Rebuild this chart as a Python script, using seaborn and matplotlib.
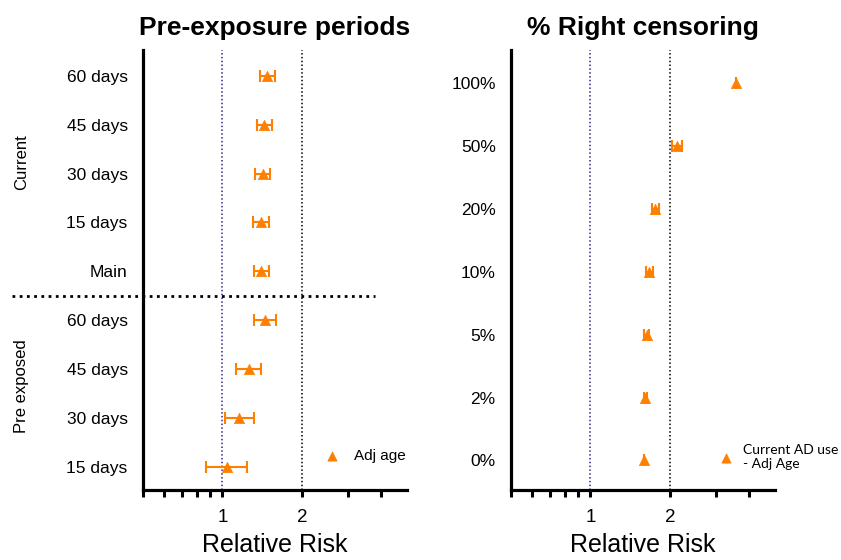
import matplotlib
matplotlib.use("Agg")
import matplotlib.pyplot as plt
from matplotlib.ticker import FixedLocator, FixedFormatter, NullFormatter
import seaborn as sns
import pandas as pd

# Left panel: pre-exposure periods (relative risk, 95% CI)
pre_labels = ["60 days", "45 days", "30 days", "15 days", "Main",
              "60 days", "45 days", "30 days", "15 days"]
pre_rr = [1.48, 1.44, 1.42, 1.40, 1.40, 1.45, 1.26, 1.16, 1.04]
pre_lo = [1.39, 1.35, 1.33, 1.31, 1.32, 1.32, 1.13, 1.02, 0.87]
pre_hi = [1.58, 1.54, 1.52, 1.50, 1.50, 1.59, 1.40, 1.32, 1.24]

# Right panel: % right censoring
cens_labels = ["100%", "50%", "20%", "10%", "5%", "2%", "0%"]
cens_rr = [3.57, 2.13, 1.76, 1.67, 1.63, 1.61, 1.59]
cens_lo = [3.57, 2.04, 1.71, 1.62, 1.60, 1.59, 1.59]
cens_hi = [3.57, 2.22, 1.82, 1.73, 1.66, 1.63, 1.59]

orange = "#FF8000"
sns.set_style("white")
plt.rcParams["font.family"] = ["Liberation Sans", "DejaVu Sans"]
for key in ["text.color", "axes.labelcolor", "xtick.color", "ytick.color"]:
    plt.rcParams[key] = "black"

fig = plt.figure(figsize=(8.41, 5.6), dpi=100)
ax1 = fig.add_axes([0.170, 0.125, 0.314, 0.786])
ax2 = fig.add_axes([0.6076, 0.125, 0.314, 0.786])


def forest(ax, labels, rr, lo, hi, label):
    df = pd.DataFrame({"pos": range(len(labels)), "rr": rr, "lo": lo, "hi": hi})
    ax.set_xscale("log")
    ax.axvline(1, color="#2b2b8a", ls=(0, (1, 1.5)), lw=1.1, zorder=1)
    ax.axvline(2, color="black", ls=(0, (1, 1.5)), lw=1.1, zorder=1)
    ax.errorbar(df["rr"], df["pos"],
                xerr=[df["rr"] - df["lo"], df["hi"] - df["rr"]],
                fmt="none", ecolor=orange, elinewidth=1.5, capsize=4,
                capthick=1.5, zorder=2)
    sns.scatterplot(data=df, x="rr", y="pos", marker="^", s=55,
                    color=orange, edgecolor=orange, linewidth=0.5,
                    label=label, ax=ax, zorder=3)
    n = len(labels)
    ax.set_ylim(n - 1 + 0.47, -0.53)
    ax.set_xlim(0.5, 5)
    ax.set_yticks(range(n))
    ax.set_yticklabels(labels, fontsize=12.5)
    ax.xaxis.set_major_locator(FixedLocator([1, 2]))
    ax.xaxis.set_minor_locator(FixedLocator([0.5, 0.6, 0.7, 0.8, 0.9, 3, 4]))
    ax.xaxis.set_major_formatter(FixedFormatter(["1", "2"]))
    ax.xaxis.set_minor_formatter(NullFormatter())
    ax.tick_params(axis="x", which="both", direction="out", length=5,
                   width=2.2, labelsize=13.5, pad=9, bottom=True)
    ax.tick_params(axis="y", length=0, pad=11)
    for side in ["top", "right"]:
        ax.spines[side].set_visible(False)
    for side in ["left", "bottom"]:
        ax.spines[side].set_linewidth(2.3)
        ax.spines[side].set_color("black")
    ax.set_xlabel("Relative Risk", fontsize=18, labelpad=5)
    ax.set_ylabel("")


forest(ax1, pre_labels, pre_rr, pre_lo, pre_hi, "Adj age")
forest(ax2, cens_labels, cens_rr, cens_lo, cens_hi, "Current AD use\n- Adj Age")

ax1.set_title("Pre-exposure periods", fontsize=19, fontweight="bold", pad=11)
ax2.set_title("% Right censoring", fontsize=19, fontweight="bold", pad=11)

# separator between Current and Pre exposed groups
ax1.plot([-0.496, 0.879], [4.5, 4.5], transform=ax1.get_yaxis_transform(),
         color="black", ls=(0, (1, 1.6)), lw=2, clip_on=False, zorder=4)

fig.text(0.026, 0.71, "Current", rotation=90, ha="center", va="center",
         fontsize=12)
fig.text(0.026, 0.31, "Pre exposed", rotation=90, ha="center", va="center",
         fontsize=12)

ax1.legend(loc="center left", bbox_to_anchor=(0.665, 0.077),
           frameon=False, fontsize=11, handletextpad=0.9, handlelength=1.0,
           borderaxespad=0, markerscale=0.9)
ax2.legend(loc="center left", bbox_to_anchor=(0.768, 0.075),
           frameon=False, handletextpad=0.7, handlelength=1.0,
           borderaxespad=0, markerscale=0.9,
           prop={"family": "Lato", "size": 10})

fig.savefig("out.png", dpi=100)
